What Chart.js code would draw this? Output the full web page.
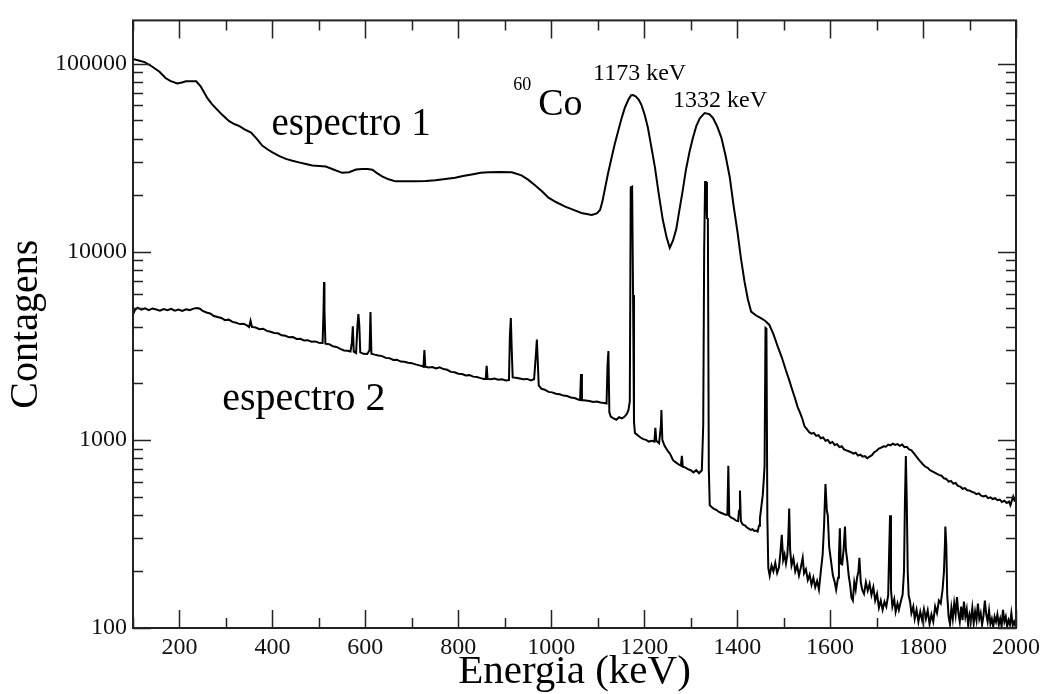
<!DOCTYPE html>
<html>
<head>
<meta charset="utf-8">
<script src="https://cdn.jsdelivr.net/npm/chart.js@4.4.1/dist/chart.umd.min.js"></script>
<style>
  html, body { margin: 0; padding: 0; background: #fff; }
  #wrap { width: 1045px; height: 694px; }
</style>
</head>
<body>
<div id="wrap"><canvas id="spectrumChart" width="1045" height="694"></canvas></div>
<script>
// espectro 1 (fundo + 60Co, baixa resolução)
const energy1 = [
  100, 112, 125, 140, 157, 170, 180, 195, 205, 214,
  236, 246, 260, 270, 278, 292, 307, 318, 329, 340,
  354, 366, 378, 390, 400, 415, 429, 443, 457, 472,
  486, 500, 515, 530, 550, 565, 580, 593, 605, 615,
  625, 636, 650, 665, 685, 708, 730, 751, 772, 793,
  810, 829, 848, 865, 890, 915, 936, 950, 965, 980,
  994, 1010, 1030, 1048, 1065, 1087, 1098, 1105, 1110, 1115,
  1122, 1130, 1137, 1144, 1151, 1158, 1166, 1172, 1176, 1182,
  1188, 1194, 1201, 1208, 1215, 1223, 1231, 1240, 1248, 1255,
  1262, 1269, 1276, 1283, 1290, 1298, 1305, 1312, 1320, 1330,
  1340, 1348, 1357, 1366, 1375, 1384, 1392, 1401, 1408, 1416,
  1423, 1430, 1440, 1451, 1460, 1469, 1478, 1487, 1496, 1505,
  1512, 1519, 1525, 1530, 1535, 1540, 1545, 1550, 1555, 1560,
  1565, 1570, 1575, 1580, 1585, 1590, 1595, 1600, 1605, 1610,
  1615, 1620, 1625, 1630, 1635, 1640, 1645, 1650, 1655, 1660,
  1665, 1670, 1675, 1680, 1685, 1690, 1695, 1700, 1705, 1710,
  1715, 1720, 1725, 1730, 1735, 1740, 1745, 1750, 1755, 1760,
  1765, 1770, 1775, 1780, 1785, 1790, 1795, 1800, 1805, 1810,
  1815, 1820, 1825, 1830, 1835, 1840, 1845, 1850, 1855, 1860,
  1865, 1870, 1875, 1880, 1885, 1890, 1895, 1900, 1905, 1910,
  1915, 1920, 1925, 1930, 1935, 1940, 1945, 1950, 1955, 1960,
  1965, 1970, 1975, 1980, 1985, 1988, 1991, 1994, 1997, 2000];
const counts1 = [
  106000, 104000, 102000, 97000, 90600, 84000, 81000, 78500, 79500, 80700,
  80700, 75500, 65600, 61000, 58100, 53500, 49500, 47800, 46600, 44800,
  43000, 40000, 36700, 35000, 33800, 32300, 31200, 30500, 29900, 29300,
  28800, 28600, 28400, 27500, 26300, 26500, 27400, 27600, 27600, 27300,
  26200, 25200, 24300, 23700, 23700, 23700, 23800, 24000, 24400, 24800,
  25300, 25800, 26300, 26500, 26600, 26500, 25500, 24200, 22600, 21000,
  19400, 18400, 17400, 16700, 16100, 15700, 16000, 16700, 18500, 21300,
  26000, 31800, 37800, 43900, 51000, 58100, 64500, 68000, 68200, 67000,
  64500, 60500, 53500, 45700, 36500, 28200, 20500, 14800, 12000, 10500,
  11500, 13200, 16800, 21300, 27500, 34500, 40500, 46600, 51500, 54700,
  54000, 51500, 46500, 40500, 32500, 25000, 17800, 12600, 9300, 6900,
  5600, 4810, 4600, 4440, 4300, 4100, 3650, 3150, 2750, 2340,
  2080, 1830, 1650, 1500, 1400, 1300, 1180, 1140, 1100, 1080,
  1090, 1050, 1060, 1020, 1030, 990, 1000, 960, 975, 940,
  950, 915, 925, 890, 880, 870, 860, 845, 855, 825,
  835, 815, 820, 800, 815, 830, 860, 875, 900, 910,
  925, 920, 945, 935, 955, 940, 950, 930, 945, 915,
  920, 890, 880, 850, 820, 790, 765, 740, 720, 710,
  690, 680, 670, 660, 650, 645, 625, 620, 600, 605,
  585, 590, 570, 565, 550, 555, 540, 538, 530, 525,
  515, 520, 505, 500, 505, 490, 495, 485, 490, 478,
  482, 468, 475, 462, 470, 450, 475, 500, 475, 470];

// espectro 2 (detector de alta resolução)
const energy2 = [
  100, 104, 110, 118, 126, 134, 142, 150, 158, 166,
  174, 182, 190, 198, 206, 214, 222, 230, 238, 244,
  250, 258, 266, 274, 282, 290, 298, 306, 314, 322,
  330, 338, 346, 350, 353, 356, 364, 372, 380, 388,
  396, 404, 412, 420, 428, 436, 444, 452, 460, 468,
  476, 484, 492, 500, 508, 510, 511, 512, 514, 522,
  530, 538, 546, 554, 562, 568, 571, 573, 575, 580,
  583, 585, 587, 589, 596, 604, 609, 611, 613, 620,
  628, 636, 644, 652, 660, 668, 676, 684, 692, 700,
  708, 716, 722, 725, 727, 729, 736, 744, 752, 760,
  768, 776, 784, 792, 800, 808, 816, 824, 832, 840,
  848, 855, 859, 861, 863, 870, 878, 886, 894, 902,
  909, 911, 913, 915, 917, 924, 932, 940, 948, 956,
  963, 967, 969, 971, 973, 979, 986, 994, 1002, 1010,
  1018, 1026, 1034, 1042, 1050, 1058, 1062, 1064, 1066, 1074,
  1082, 1090, 1098, 1106, 1114, 1119, 1121, 1123, 1125, 1128,
  1134, 1140, 1146, 1152, 1158, 1163, 1166, 1169, 1171, 1174,
  1176, 1178, 1180, 1186, 1192, 1198, 1204, 1210, 1216, 1222,
  1224, 1226, 1232, 1236, 1237, 1239, 1244, 1250, 1256, 1262,
  1268, 1274, 1279, 1281, 1283, 1288, 1294, 1300, 1306, 1312,
  1318, 1324, 1327, 1329, 1331, 1333, 1335, 1337, 1339, 1341,
  1345, 1350, 1355, 1360, 1365, 1370, 1375, 1379, 1381, 1383,
  1388, 1393, 1398, 1402, 1404, 1406, 1408, 1412, 1417, 1421,
  1425, 1429, 1433, 1437, 1441, 1444, 1447, 1449, 1452, 1455,
  1457, 1459, 1461, 1463, 1465, 1467, 1470, 1474, 1478, 1482,
  1486, 1490, 1493, 1496, 1499, 1502, 1505, 1508, 1510, 1512,
  1514, 1517, 1521, 1525, 1529, 1533, 1537, 1541, 1544, 1548,
  1552, 1556, 1560, 1564, 1568, 1572, 1576, 1580, 1584, 1587,
  1590, 1593, 1595, 1598, 1602, 1606, 1610, 1613, 1617, 1619,
  1621, 1623, 1626, 1629, 1632, 1634, 1637, 1640, 1643, 1646,
  1649, 1652, 1655, 1658, 1661, 1663, 1666, 1669, 1673, 1677,
  1681, 1685, 1689, 1693, 1697, 1701, 1705, 1709, 1713, 1717,
  1721, 1725, 1727, 1729, 1731, 1734, 1738, 1741, 1745, 1748,
  1752, 1756, 1759, 1761, 1763, 1765, 1767, 1769, 1772, 1775,
  1779, 1782, 1786, 1790, 1794, 1798, 1802, 1806, 1810, 1814,
  1818, 1822, 1826, 1830, 1834, 1838, 1842, 1845, 1847, 1848,
  1850, 1852, 1855, 1858, 1861, 1864, 1867, 1870, 1873, 1876,
  1879, 1882, 1885, 1888, 1891, 1894, 1897, 1900, 1903, 1906,
  1909, 1912, 1915, 1918, 1921, 1924, 1927, 1930, 1933, 1936,
  1939, 1942, 1945, 1948, 1951, 1954, 1957, 1960, 1963, 1966,
  1969, 1972, 1975, 1978, 1981, 1984, 1987, 1990, 1993, 1996,
  2000];
const counts2 = [
  4630, 4900, 5050, 4920, 5010, 4900, 5000, 4940, 4860, 4960,
  4900, 4980, 4870, 4930, 4850, 4950, 4900, 4990, 5030, 4980,
  4850, 4760, 4700, 4560, 4500, 4450, 4330, 4360, 4240, 4200,
  4130, 4150, 4050, 3980, 4300, 3990, 3960, 3880, 3900, 3800,
  3760, 3700, 3690, 3600, 3580, 3510, 3520, 3440, 3450, 3380,
  3390, 3330, 3340, 3290, 3280, 4900, 6900, 4900, 3250, 3230,
  3150, 3120, 3050, 2990, 2980, 2950, 3300, 4020, 2950, 2900,
  4050, 4660, 4050, 2920, 2870, 2860, 3000, 4780, 2870, 2840,
  2810, 2790, 2730, 2720, 2660, 2670, 2610, 2600, 2570, 2560,
  2520, 2490, 2470, 2450, 3000, 2450, 2430, 2440, 2400, 2430,
  2380, 2360, 2300, 2290, 2250, 2240, 2200, 2210, 2170, 2160,
  2130, 2110, 2110, 2480, 2110, 2100, 2120, 2090, 2100, 2070,
  2080, 3600, 4440, 3000, 2150, 2140, 2120, 2100, 2110, 2070,
  2100, 2850, 3420, 2600, 1950, 1870, 1850, 1800, 1790, 1760,
  1750, 1720, 1710, 1680, 1670, 1640, 1630, 2240, 1630, 1620,
  1610, 1590, 1600, 1580, 1570, 1560, 2480, 2970, 1400, 1330,
  1300, 1280, 1320, 1300, 1330, 1380, 1440, 1600, 22000, 22200,
  5900, 1250, 1090, 1060, 1030, 1010, 1000, 980, 990, 980,
  1160, 990, 960, 1200, 1440, 1000, 927, 880, 840, 780,
  760, 740, 730, 822, 720, 715, 700, 690, 672, 690,
  665, 690, 1200, 10100, 23500, 23500, 15100, 15000, 700, 450,
  440, 430, 425, 415, 410, 405, 400, 400, 728, 395,
  385, 380, 372, 370, 420, 538, 370, 355, 350, 342,
  338, 332, 335, 328, 330, 326, 350, 383, 440, 507,
  600, 728, 3940, 3900, 383, 209, 190, 215, 200, 222,
  196, 210, 250, 313, 230, 246, 220, 245, 300, 432,
  260, 215, 235, 200, 215, 190, 210, 236, 195, 205,
  180, 192, 170, 185, 165, 178, 160, 200, 246, 350,
  583, 420, 398, 270, 227, 190, 175, 160, 185, 240,
  339, 220, 218, 260, 346, 260, 227, 190, 170, 145,
  140, 175, 160, 185, 200, 236, 175, 160, 152, 175,
  158, 172, 150, 165, 140, 152, 128, 140, 125, 138,
  130, 150, 250, 398, 160, 130, 142, 122, 135, 125,
  138, 150, 200, 468, 822, 468, 200, 150, 138, 120,
  130, 112, 125, 108, 122, 110, 126, 112, 124, 105,
  118, 108, 130, 120, 140, 135, 160, 200, 278, 346,
  278, 150, 115, 105, 128, 112, 135, 118, 146, 120,
  108, 130, 110, 138, 115, 126, 104, 118, 110, 128,
  106, 122, 110, 135, 112, 120, 104, 116, 140, 118,
  108, 124, 105, 112, 102, 115, 108, 118, 104, 112,
  102, 125, 108, 115, 102, 110, 104, 120, 103, 108,
  100];

const xTickLabels = [200, 400, 600, 800, 1000, 1200, 1400, 1600, 1800, 2000];
const yTickLabels = [100, 1000, 10000, 100000];

const toPoints = (xs, ys) => xs.map((x, i) => ({ x: x, y: ys[i] }));

const serif = '"Liberation Serif", "DejaVu Serif", serif';

// ticks internos nos quatro lados, estilo xmgrace
const frameTicks = {
  id: 'frameTicks',
  afterDatasetsDraw(chart) {
    const { ctx, chartArea: a, scales: { x, y } } = chart;
    ctx.save();
    ctx.strokeStyle = '#222';
    ctx.lineWidth = 1.5;
    ctx.beginPath();
    x.ticks.forEach(t => {
      const px = Math.round(x.getPixelForValue(t.value)) + 0.5;
      const len = t.value % 200 === 0 ? 18 : 10;
      ctx.moveTo(px, a.bottom); ctx.lineTo(px, a.bottom - len);
      ctx.moveTo(px, a.top); ctx.lineTo(px, a.top + len);
    });
    y.ticks.forEach(t => {
      const py = Math.round(y.getPixelForValue(t.value)) + 0.5;
      const len = yTickLabels.includes(t.value) ? 18 : 10;
      ctx.moveTo(a.left, py); ctx.lineTo(a.left + len, py);
      ctx.moveTo(a.right, py); ctx.lineTo(a.right - len, py);
    });
    ctx.stroke();
    ctx.lineWidth = 2;
    ctx.strokeRect(a.left, a.top, a.right - a.left, a.bottom - a.top);
    ctx.restore();
  }
};

const labels = {
  id: 'labels',
  afterDraw(chart) {
    const { ctx, scales: { x, y } } = chart;
    const put = (txt, e, c, size) => {
      ctx.font = size + 'px ' + serif;
      ctx.fillText(txt, x.getPixelForValue(e), y.getPixelForValue(c));
    };
    ctx.save();
    ctx.fillStyle = '#000';
    ctx.textAlign = 'left';
    ctx.textBaseline = 'alphabetic';
    put('espectro 1', 398, 42000, 39);
    put('espectro 2', 292, 1435, 40);
    put('1173 keV', 1090, 81500, 24);
    put('1332 keV', 1262, 58900, 24);
    put('Co', 972, 53500, 38);
    put('60', 918, 72300, 18);
    ctx.restore();
  }
};

new Chart(document.getElementById('spectrumChart'), {
  type: 'line',
  data: {
    datasets: [
      {
        label: 'espectro 1',
        data: toPoints(energy1, counts1),
        borderColor: '#000',
        borderWidth: 2,
        pointRadius: 0,
        tension: 0
      },
      {
        label: 'espectro 2',
        data: toPoints(energy2, counts2),
        borderColor: '#000',
        borderWidth: 2,
        pointRadius: 0,
        tension: 0
      }
    ]
  },
  options: {
    responsive: false,
    animation: false,
    devicePixelRatio: 1,
    layout: { padding: { left: 0, top: 11, right: 26, bottom: 0 } },
    plugins: { legend: { display: false }, tooltip: { enabled: false } },
    scales: {
      x: {
        type: 'linear',
        min: 100,
        max: 2000,
        afterBuildTicks: s => {
          const t = [];
          for (let v = 100; v <= 2000; v += 100) t.push({ value: v });
          s.ticks = t;
        },
        afterFit: s => { s.height = 66; },
        grid: { display: false, drawTicks: false },
        border: { display: false },
        ticks: {
          autoSkip: false,
          maxRotation: 0,
          padding: 5,
          color: '#111',
          font: { family: serif, size: 24 },
          callback: v => xTickLabels.includes(v) ? String(v) : ''
        },
        title: {
          display: true,
          text: 'Energia (keV)',
          color: '#000',
          font: { family: serif, size: 41, lineHeight: 1.05 },
          padding: { top: 0, bottom: 0 }
        }
      },
      y: {
        type: 'logarithmic',
        min: 100,
        max: 170000,
        afterBuildTicks: s => {
          const t = [];
          for (let d = 100; d <= 100000; d *= 10) {
            for (let m = 1; m <= 9; m++) {
              const v = m * d;
              if (v <= 170000) t.push({ value: v });
            }
          }
          s.ticks = t;
        },
        afterFit: s => { s.width = 133; },
        grid: { display: false, drawTicks: false },
        border: { display: false },
        ticks: {
          autoSkip: false,
          padding: 6,
          color: '#111',
          font: { family: serif, size: 24 },
          callback: v => yTickLabels.includes(v) ? String(v) : ''
        },
        title: {
          display: true,
          text: 'Contagens',
          color: '#000',
          font: { family: serif, size: 40, lineHeight: 1 },
          padding: { top: 6, bottom: 0 }
        }
      }
    }
  },
  plugins: [frameTicks, labels]
});
</script>
</body>
</html>
